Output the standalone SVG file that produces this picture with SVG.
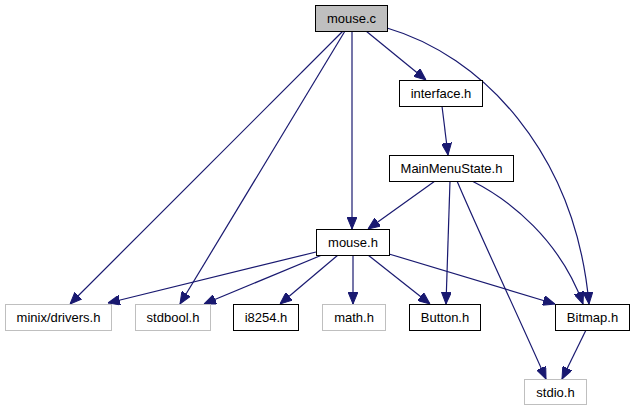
<svg xmlns="http://www.w3.org/2000/svg" width="635" height="411" viewBox="0 0 635 411">
<defs>
<style>
.n rect{fill:#fff;stroke:#000;stroke-width:1}
.g rect{fill:#fff;stroke:#bfbfbf;stroke-width:1}
.root rect{fill:#bfbfbf;stroke:#000;stroke-width:1}
text{font-family:"Liberation Sans",Arial,Helvetica,sans-serif;font-size:13px;fill:#000;text-anchor:middle}
.e path{fill:none;stroke:#191970;stroke-width:1.2;marker-end:url(#ah)}
</style>
<marker id="ah" markerUnits="userSpaceOnUse" markerWidth="12" markerHeight="10" refX="12" refY="5" orient="auto">
<path d="M0,0 L12,5 L0,10 z" fill="#191970" stroke="#191970" stroke-width="1"/>
</marker>
</defs>
<rect width="635" height="411" fill="#fff"/>
<g id="edges" class="e">
<path d="M366,31 L426,80"/>
<path d="M352,31 L352,229"/>
<path d="M343,31 L70,304"/>
<path d="M345,31 L180,304"/>
<path d="M387,28 C480,55 575,150 589,304"/>
<path d="M442,106 L448,155"/>
<path d="M435,181 L368,229"/>
<path d="M450,181 L446,304"/>
<path d="M457,181 C480,235 520,320 546,379"/>
<path d="M472,181 C510,200 560,240 583,304"/>
<path d="M316,252 L108,303"/>
<path d="M322,255 L204,304"/>
<path d="M338,255 L280,304"/>
<path d="M353,255 L353,304"/>
<path d="M368,255 L430,304"/>
<path d="M389,254 L555,304"/>
<path d="M586,330 L562,379"/>
</g>
<g id="mouse_c" class="root"><rect x="315.5" y="5.5" width="72" height="26"/><text x="351.5" y="23">mouse.c</text></g>
<g id="interface_h" class="n"><rect x="399.5" y="80.5" width="83" height="26"/><text x="441" y="98">interface.h</text></g>
<g id="MainMenuState_h" class="n"><rect x="389.5" y="155.5" width="124" height="26"/><text x="451.5" y="173">MainMenuState.h</text></g>
<g id="mouse_h" class="n"><rect x="316.5" y="229.5" width="73" height="26"/><text x="353" y="247">mouse.h</text></g>
<g id="minix_drivers_h" class="g"><rect x="5.5" y="304.5" width="106" height="26"/><text x="58.5" y="322">minix/drivers.h</text></g>
<g id="stdbool_h" class="g"><rect x="135.5" y="304.5" width="75" height="26"/><text x="173" y="322">stdbool.h</text></g>
<g id="i8254_h" class="n"><rect x="233.5" y="304.5" width="65" height="26"/><text x="266" y="322">i8254.h</text></g>
<g id="math_h" class="g"><rect x="322.5" y="304.5" width="63" height="26"/><text x="354" y="322">math.h</text></g>
<g id="Button_h" class="n"><rect x="409.5" y="304.5" width="71" height="26"/><text x="445" y="322">Button.h</text></g>
<g id="Bitmap_h" class="n"><rect x="555.5" y="304.5" width="74" height="26"/><text x="592.5" y="322">Bitmap.h</text></g>
<g id="stdio_h" class="g"><rect x="524.5" y="379.5" width="62" height="25"/><text x="555.5" y="396.5">stdio.h</text></g>
</svg>
